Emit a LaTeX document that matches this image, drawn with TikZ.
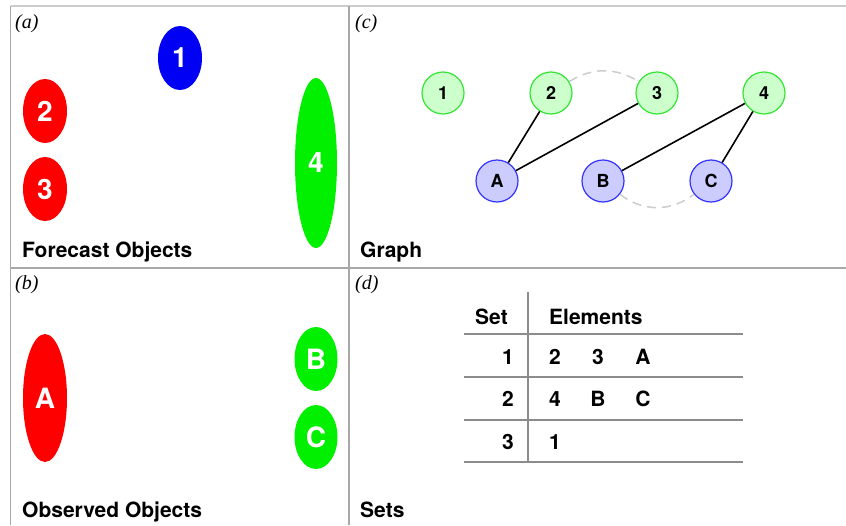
\documentclass[tikz,border=0pt]{standalone}
\usepackage{fontspec}
\setsansfont{TeX Gyre Heros}
\newfontfamily\labelserif{Liberation Serif}
\usetikzlibrary{shapes.geometric}
\definecolor{objred}{HTML}{FF0000}
\definecolor{objblue}{HTML}{0000F5}
\definecolor{objgreen}{HTML}{00F000}
\definecolor{gfill}{HTML}{CCFFCC}
\definecolor{gline}{HTML}{33E633}
\definecolor{bfill}{HTML}{CCCCFF}
\definecolor{bline}{HTML}{3333FF}
\definecolor{frame}{HTML}{A8A8A8}
\definecolor{tline}{HTML}{8C8C8C}
\tikzset{
  obj/.style={ellipse, inner sep=0pt, text=white, font=\sffamily\bfseries\fontsize{28}{30}\selectfont},
  gnode/.style={circle, draw=gline, fill=gfill, line width=1.2pt, minimum size=42pt, inner sep=0pt, font=\sffamily\bfseries\fontsize{18}{20}\selectfont},
  bnode/.style={circle, draw=bline, fill=bfill, line width=1.2pt, minimum size=42pt, inner sep=0pt, font=\sffamily\bfseries\fontsize{18}{20}\selectfont},
  link/.style={line width=1.6pt, black},
  dlink/.style={line width=1.5pt, gray!40, dash pattern=on 9pt off 6pt},
  caption/.style={anchor=base west, inner sep=0pt, font=\sffamily\bfseries\fontsize{21}{24}\selectfont},
  plabel/.style={anchor=base west, inner sep=0pt, font=\labelserif\itshape\fontsize{20}{22}\selectfont},
  ttext/.style={inner sep=0pt, font=\sffamily\bfseries\fontsize{21}{23}\selectfont},
  frameline/.style={draw=frame, line width=1.5pt},
  tableline/.style={draw=tline, line width=1.2pt}
}
\begin{document}
\begin{tikzpicture}[x=1pt,y=-1pt]
\useasboundingbox (0,0) rectangle (846,525);
% frame
\coordinate (tl) at (10.5,6);
\coordinate (tr) at (846,6);
\coordinate (bl) at (10.5,525);
\coordinate (mt) at (349,6);
\coordinate (mb) at (349,525);
\coordinate (ml) at (10.5,268);
\coordinate (mr) at (846,268);
\draw[frameline, draw=gray!40] (tl) -- (tr);
\draw[frameline] (tl) -- (bl);
\draw[frameline] (mt) -- (mb);
\draw[frameline] (ml) -- (mr);
% panel labels
\node[plabel] (la) at (15,28) {(a)};
\node[plabel] (lb) at (15,289) {(b)};
\node[plabel] (lc) at (355,28) {(c)};
\node[plabel] (ld) at (355,289) {(d)};
% captions
\node[caption] (ca) at (22,257) {Forecast Objects};
\node[caption] (cb) at (22,517) {Observed Objects};
\node[caption] (cc) at (360,257) {Graph};
\node[caption] (cd) at (360,517) {Sets};
% panel (a)
\node[obj, fill=objblue, minimum width=44pt, minimum height=64pt] (f1) at (180,58) {1};
\node[obj, fill=objred, minimum width=44pt, minimum height=64pt] (f2) at (45,111) {2};
\node[obj, fill=objred, minimum width=44pt, minimum height=64pt] (f3) at (45,189) {3};
\node[obj, fill=objgreen, minimum width=42pt, minimum height=170pt] (f4) at (316,163) {4};
% panel (b)
\node[obj, fill=objred, minimum width=44pt, minimum height=128pt] (oA) at (45,398) {A};
\node[obj, fill=objgreen, minimum width=43pt, minimum height=64pt] (oB) at (316,359) {B};
\node[obj, fill=objgreen, minimum width=43pt, minimum height=64pt] (oC) at (316,437) {C};
% panel (c)
\node[gnode] (g1) at (443,93) {1};
\node[gnode] (g2) at (551,93) {2};
\node[gnode] (g3) at (657,93) {3};
\node[gnode] (g4) at (764,93) {4};
\node[bnode] (gA) at (497,181) {A};
\node[bnode] (gB) at (603,181) {B};
\node[bnode] (gC) at (711,181) {C};
\draw[dlink] (g2) to[bend left=32] (g3);
\draw[dlink] (gB) to[bend right=38] (gC);
\draw[link] (g2) -- (gA);
\draw[link] (g3) -- (gA);
\draw[link] (g4) -- (gB);
\draw[link] (g4) -- (gC);
% panel (d)
\coordinate (vt) at (528,292);
\coordinate (vb) at (528,462);
\coordinate (h1l) at (464,334); \coordinate (h1r) at (743,334);
\coordinate (h2l) at (464,377); \coordinate (h2r) at (743,377);
\coordinate (h3l) at (464,420); \coordinate (h3r) at (743,420);
\coordinate (h4l) at (464,462); \coordinate (h4r) at (743,462);
\draw[tableline] (vt) -- (vb);
\draw[tableline] (h1l) -- (h1r);
\draw[tableline] (h2l) -- (h2r);
\draw[tableline] (h3l) -- (h3r);
\draw[tableline] (h4l) -- (h4r);
\node[ttext, anchor=base east] (hset) at (508,324) {Set};
\node[ttext, anchor=base west] (hel) at (549,324) {Elements};
\node[ttext, anchor=base east] (r1) at (514,364) {1};
\node[ttext, anchor=base east] (r2) at (514,406) {2};
\node[ttext, anchor=base east] (r3) at (514,449) {3};
\node[ttext, anchor=base] (e11) at (555,364) {2};
\node[ttext, anchor=base] (e12) at (598,364) {3};
\node[ttext, anchor=base] (e13) at (643,364) {A};
\node[ttext, anchor=base] (e21) at (555,406) {4};
\node[ttext, anchor=base] (e22) at (598,406) {B};
\node[ttext, anchor=base] (e23) at (643,406) {C};
\node[ttext, anchor=base] (e31) at (555,449) {1};
\end{tikzpicture}
\end{document}
